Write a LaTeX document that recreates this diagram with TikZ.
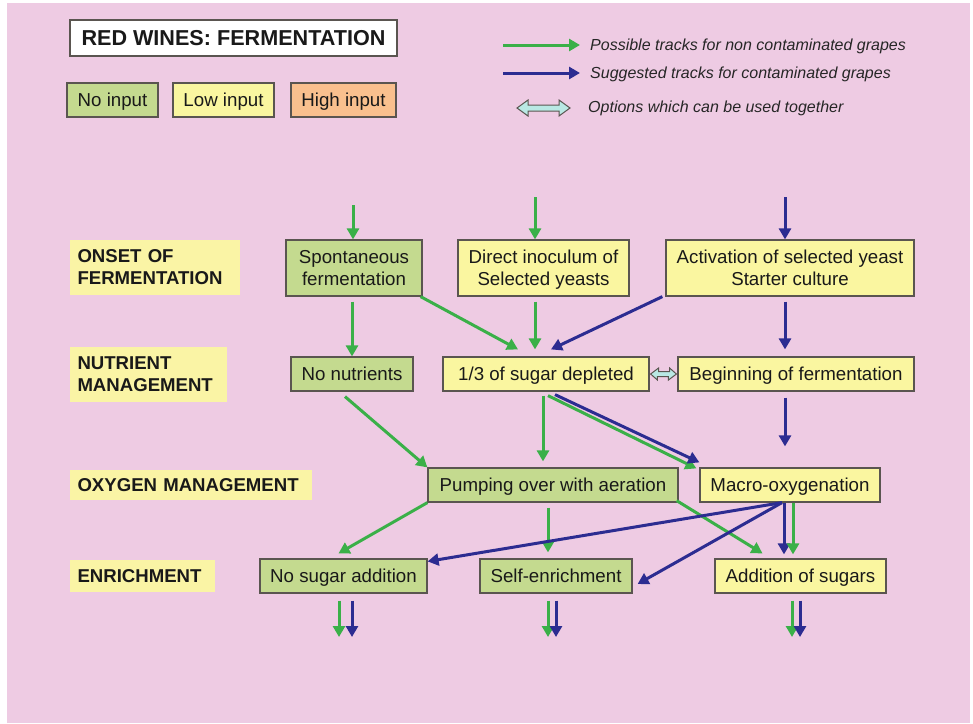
\documentclass[tikz,border=0pt]{standalone}
\usepackage{fontspec}
\setmainfont{Liberation Sans}
\usetikzlibrary{arrows.meta}
\definecolor{bgpink}{RGB}{238,203,227}
\definecolor{boxgreen}{RGB}{196,218,143}
\definecolor{boxyellow}{RGB}{250,246,160}
\definecolor{boxorange}{RGB}{249,192,142}
\definecolor{lblyellow}{RGB}{250,244,165}
\definecolor{arrgreen}{RGB}{58,176,72}
\definecolor{arrblue}{RGB}{44,44,145}
\definecolor{edgegray}{RGB}{90,85,80}
\definecolor{dblfill}{RGB}{185,232,228}
\tikzset{
  base/.style={draw=edgegray, line width=1.2pt, inner sep=0pt, align=center,
    font=\fontsize{18.7}{22}\selectfont, text=black!90},
  oneline/.style={text height=13.4pt, text depth=0pt},
  twoline/.style={text height=35.4pt, text depth=0pt},
  gbox/.style={base, fill=boxgreen},
  ybox/.style={base, fill=boxyellow},
  obox/.style={base, fill=boxorange},
  lbl/.style={fill=lblyellow, inner sep=0pt, align=left, text=black!90,
    font=\fontsize{18.6}{22}\selectfont\bfseries},
  legtxt/.style={anchor=west, inner sep=0pt, text=black!85,
    font=\fontsize{16}{19}\selectfont\itshape},
  garr/.style={draw=arrgreen, line width=3pt, -{Triangle[length=11pt,width=12pt]}},
  barr/.style={draw=arrblue, line width=3pt, -{Triangle[length=11pt,width=12pt]}},
}
\begin{document}
\begin{tikzpicture}[x=1pt,y=-1pt]
\useasboundingbox (0,0) rectangle (973,723);
\fill[white] (0,0) rectangle (973,723);
\fill[bgpink] (7,3) rectangle (970,723);

% title and key
\node[base, fill=white, minimum width=327pt, minimum height=36pt, text height=15.5pt, text depth=0pt,
  font=\fontsize{21.6}{25}\selectfont\bfseries] (title) at (233.5,38) {RED WINES: FERMENTATION};
\node[gbox, oneline, minimum width=91pt, minimum height=34pt] (noinput) at (112.5,100) {No input};
\node[ybox, oneline, minimum width=101pt, minimum height=34pt] (lowinput) at (223.5,100) {Low input};
\node[obox, oneline, minimum width=105pt, minimum height=34pt] (highinput) at (343.5,100) {High input};

% legend
\coordinate (lg1a) at (503,45); \coordinate (lg1b) at (580,45);
\coordinate (lg2a) at (503,73); \coordinate (lg2b) at (580,73);
\draw[garr] (lg1a) -- (lg1b);
\draw[barr] (lg2a) -- (lg2b);
\node[legtxt] (leg1) at (590,46) {Possible tracks for non contaminated grapes};
\node[legtxt] (leg2) at (590,74) {Suggested tracks for contaminated grapes};
\node[legtxt] (leg3) at (588,108) {Options which can be used together};
\filldraw[fill=dblfill, draw=edgegray, line width=1pt]
  (517,108) -- (528,100) -- (528,105) -- (559,105) -- (559,100) -- (570,108)
  -- (559,116) -- (559,111) -- (528,111) -- (528,116) -- cycle;

% stage labels
\node[lbl, minimum width=170pt, minimum height=55pt, text width=155pt] (onset) at (155,267.5) {ONSET OF\\FERMENTATION};
\node[lbl, minimum width=157pt, minimum height=55pt, text width=142pt] (nutr) at (148.5,374.5) {NUTRIENT\\MANAGEMENT};
\node[lbl, minimum width=242pt, minimum height=30pt, text width=227pt] (oxy) at (191,485) {OXYGEN MANAGEMENT};
\node[lbl, minimum width=145pt, minimum height=32pt, text width=130pt] (enr) at (142.5,576) {ENRICHMENT};

% process boxes
\node[gbox, twoline, minimum width=136pt, minimum height=56pt] (spont) at (354,268) {Spontaneous\\fermentation};
\node[ybox, twoline, minimum width=171pt, minimum height=56pt] (direct) at (543.5,268) {Direct inoculum of\\Selected yeasts};
\node[ybox, twoline, minimum width=248pt, minimum height=56pt] (activ) at (790,268) {Activation of selected yeast\\Starter culture};
\node[gbox, oneline, minimum width=122pt, minimum height=34pt] (nonut) at (352,374) {No nutrients};
\node[ybox, oneline, minimum width=206pt, minimum height=34pt] (sug) at (546,374) {1/3 of sugar depleted};
\node[ybox, oneline, minimum width=236pt, minimum height=34pt] (begin) at (796,374) {Beginning of fermentation};
\node[gbox, oneline, minimum width=250pt, minimum height=34pt] (pump) at (553,485) {Pumping over with aeration};
\node[ybox, oneline, minimum width=180pt, minimum height=34pt] (macro) at (790,485) {Macro-oxygenation};
\node[gbox, oneline, minimum width=167pt, minimum height=34pt] (nosug) at (343.5,576) {No sugar addition};
\node[gbox, oneline, minimum width=152pt, minimum height=34pt] (self) at (556,576) {Self-enrichment};
\node[ybox, oneline, minimum width=171pt, minimum height=34pt] (addsug) at (800.5,576) {Addition of sugars};

% double arrow between sugar depleted and beginning
\filldraw[fill=dblfill, draw=edgegray, line width=1pt]
  ([xshift=1pt]sug.east) -- ++(8,-6) -- ++(0,3.5) -- ++(11,0) -- ++(0,-3.5) -- ([xshift=-1pt]begin.west)
  -- ++(-8,6) -- ++(0,-3.5) -- ++(-11,0) -- ++(0,3.5) -- cycle;

% incoming arrows
\coordinate (in1) at (353,205);
\coordinate (in2) at (535,197);
\coordinate (in3) at (785,197);
\draw[garr] (in1) -- (in1 |- spont.north);
\draw[garr] (in2) -- (in2 |- direct.north);
\draw[barr] (in3) -- (in3 |- activ.north);

% onset -> nutrient
\draw[garr] ([xshift=-2pt,yshift=-5pt]spont.south) -- (nonut.north);
\draw[garr] ([xshift=-2pt]spont.south east) -- ([xshift=-28pt,yshift=7pt]sug.north);
\draw[garr] ([xshift=-8.5pt,yshift=-5pt]direct.south) -- ([xshift=-11pt,yshift=7pt]sug.north);
\draw[barr] ([xshift=-3pt]activ.south west) -- ([xshift=5pt,yshift=7pt]sug.north);
\draw[barr] ([xshift=-5pt,yshift=-5pt]activ.south) -- ([xshift=-5pt,yshift=7pt]activ.south |- begin.north);

% nutrient -> oxygen
\draw[barr] ([xshift=-11pt,yshift=-6pt]begin.south) -- ([xshift=-5pt,yshift=21pt]macro.north);
\draw[garr] ([xshift=-7pt,yshift=-5pt]nonut.south) -- (pump.north west);
\draw[garr] ([xshift=-3pt,yshift=-4pt]sug.south) -- ([xshift=-10pt,yshift=6pt]pump.north);
\draw[garr] ([xshift=2pt,yshift=-4pt]sug.south) -- ([xshift=-3pt,yshift=-1pt]macro.north west);
\draw[barr] ([xshift=9pt,yshift=-3pt]sug.south) -- ([xshift=0pt,yshift=5pt]macro.north west);

% oxygen -> enrichment
\draw[garr] (pump.south west) -- ([xshift=-5pt,yshift=5pt]nosug.north);
\draw[garr] ([xshift=-5pt,yshift=-5pt]pump.south) -- ([xshift=-8pt,yshift=6pt]self.north);
\draw[garr] ([xshift=-2pt,yshift=2pt]pump.south east) -- ([xshift=-38pt,yshift=5pt]addsug.north);
\draw[barr] ([xshift=-8pt]macro.south) -- ([yshift=-3pt]nosug.north east);
\draw[barr] ([xshift=-8pt]macro.south) -- ([xshift=5pt,yshift=-8pt]self.east);
\draw[barr] ([xshift=-6pt]macro.south) -- ([xshift=-16.5pt,yshift=4pt]addsug.north);
\draw[garr] ([xshift=3pt]macro.south) -- ([xshift=-7.5pt,yshift=4pt]addsug.north);

% outgoing arrows
\coordinate (o1g) at (339,637); \coordinate (o1b) at (352,637);
\coordinate (o2g) at (548,637); \coordinate (o2b) at (556,637);
\coordinate (o3g) at (792,637); \coordinate (o3b) at (800,637);
\draw[garr] ([yshift=-7pt]nosug.south -| o1g) -- (o1g);
\draw[barr] ([yshift=-7pt]nosug.south -| o1b) -- (o1b);
\draw[garr] ([yshift=-7pt]self.south -| o2g) -- (o2g);
\draw[barr] ([yshift=-7pt]self.south -| o2b) -- (o2b);
\draw[garr] ([yshift=-7pt]addsug.south -| o3g) -- (o3g);
\draw[barr] ([yshift=-7pt]addsug.south -| o3b) -- (o3b);
\end{tikzpicture}
\end{document}
